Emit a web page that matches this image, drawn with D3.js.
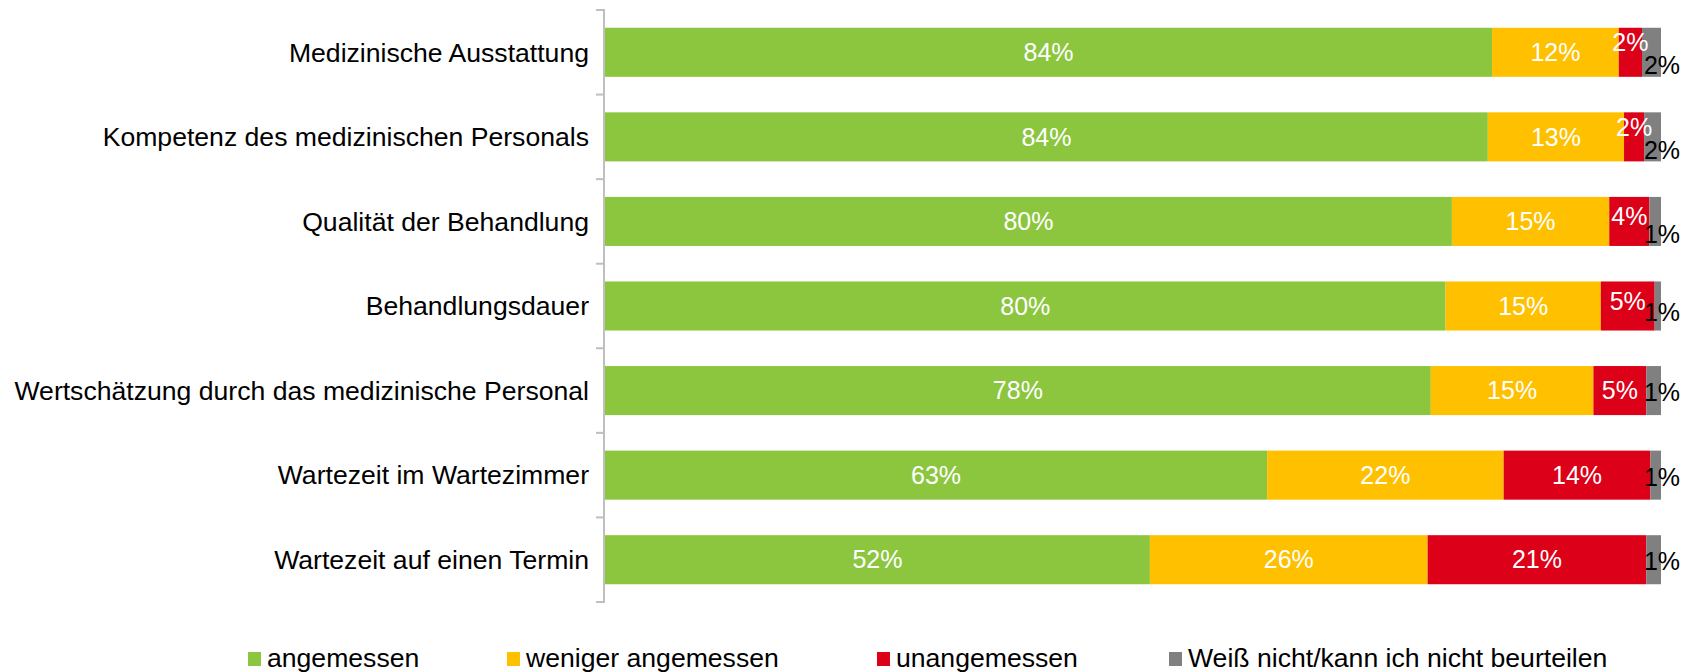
<!DOCTYPE html>
<html>
<head>
<meta charset="utf-8">
<script src="https://cdn.jsdelivr.net/npm/d3@7"></script>
<style>
  html, body { margin: 0; padding: 0; background: #fff; }
  svg { display: block; font-family: "Liberation Sans", Arial, sans-serif; }
</style>
</head>
<body>
<svg id="chart" width="1685" height="672"></svg>
<script>
// Survey items (top to bottom)
const categories = [
  "Medizinische Ausstattung",
  "Kompetenz des medizinischen Personals",
  "Qualität der Behandlung",
  "Behandlungsdauer",
  "Wertschätzung durch das medizinische Personal",
  "Wartezeit im Wartezimmer",
  "Wartezeit auf einen Termin"
];

// Answer shares in percent, one array per answer option
const angemessen        = [84.0, 83.6, 80.2, 79.6, 78.2, 62.7, 51.6];
const wenigerAngemessen = [12.0, 12.9, 14.9, 14.7, 15.4, 22.4, 26.3];
const unangemessen      = [ 2.2,  1.9,  3.8,  5.1,  5.0, 13.9, 20.7];
const weissNicht        = [ 1.8,  1.6,  1.1,  0.6,  1.4,  1.0,  1.4];

const seriesNames = [
  "angemessen",
  "weniger angemessen",
  "unangemessen",
  "Weiß nicht/kann ich nicht beurteilen"
];
const seriesValues = [angemessen, wenigerAngemessen, unangemessen, weissNicht];
const seriesColors = ["#8cc63f", "#ffc000", "#dc0018", "#808080"];
const labelColors  = ["#ffffff", "#ffffff", "#ffffff", "#000000"];

const rows = categories.map((c, i) => {
  const r = { category: c };
  seriesNames.forEach((s, k) => { r[s] = seriesValues[k][i]; });
  return r;
});

const svg = d3.select("#chart");

const x = d3.scaleLinear().domain([0, 100]).range([605, 1661]);
const y = d3.scaleBand().domain(categories).range([10, 602]).paddingInner(0.42).paddingOuter(0.21);

const stacked = d3.stack().keys(seriesNames)(rows);

// Bars
const layers = svg.append("g").selectAll("g")
  .data(stacked)
  .join("g")
  .attr("fill", (d, i) => seriesColors[i]);

layers.selectAll("rect")
  .data(d => d)
  .join("rect")
  .attr("x", d => x(d[0]))
  .attr("y", d => y(d.data.category))
  .attr("width", d => x(d[1]) - x(d[0]))
  .attr("height", y.bandwidth());

// Category axis on the left with ticks between the bands
const axisG = svg.append("g");
const bandEdges = d3.range(categories.length + 1).map(i => 10 + i * (592 / categories.length));
axisG.append("line")
  .attr("x1", 604).attr("x2", 604)
  .attr("y1", bandEdges[0]).attr("y2", bandEdges[bandEdges.length - 1])
  .attr("stroke", "#bfbfbf").attr("stroke-width", 2);
axisG.selectAll("line.tick")
  .data(bandEdges)
  .join("line")
  .attr("class", "tick")
  .attr("x1", 596).attr("x2", 605)
  .attr("y1", d => d).attr("y2", d => d)
  .attr("stroke", "#bfbfbf").attr("stroke-width", 2);

axisG.selectAll("text")
  .data(categories)
  .join("text")
  .attr("x", 589)
  .attr("y", d => y(d) + y.bandwidth() / 2)
  .attr("dy", "0.35em")
  .attr("text-anchor", "end")
  .attr("font-size", 26.6)
  .attr("fill", "#000")
  .text(d => d);

// Value labels
const fmt = v => Math.round(v) + "%";
const labelG = svg.append("g");
const labelRows = categories.map((c, i) => {
  return stacked.map((layer, k) => {
    const d = layer[i];
    return { k, i, x0: x(d[0]), x1: x(d[1]), value: d[1] - d[0], yc: y(c) + y.bandwidth() / 2 };
  });
});

labelRows.forEach(row => {
  const red = row[2], grey = row[3];
  const redW = red.x1 - red.x0;
  row.forEach(d => { d.cx = (d.x0 + d.x1) / 2; d.dy = 0; });
  // grey segments are thin: their label sits at the bar end
  grey.cx = grey.x1 + 1;
  // keep the last two labels from colliding
  const halfRed = fmt(red.value).length * 9.5;
  const halfGrey = fmt(grey.value).length * 9.5;
  if (red.cx + halfRed > grey.cx - halfGrey) {
    red.dy = redW < 30 ? -10 : -5;
    grey.dy = redW < 45 ? 13 : 6;
  } else {
    grey.dy = 2;
  }
});

labelG.selectAll("text")
  .data(labelRows.flat())
  .join("text")
  .attr("x", d => d.cx)
  .attr("y", d => d.yc + d.dy)
  .attr("dy", "0.35em")
  .attr("text-anchor", "middle")
  .attr("font-size", 25)
  .attr("fill", d => labelColors[d.k])
  .text(d => fmt(d.value));

// Legend
const legendX = [248, 507, 877, 1169];
const legend = svg.append("g").selectAll("g")
  .data(seriesNames)
  .join("g")
  .attr("transform", (d, i) => `translate(${legendX[i]},652)`);
legend.append("rect")
  .attr("width", 13).attr("height", 14)
  .attr("fill", (d, i) => seriesColors[i]);
legend.append("text")
  .attr("x", 19)
  .attr("y", 15)
  .attr("font-size", 26.6)
  .attr("fill", "#000")
  .text(d => d);
</script>
</body>
</html>
